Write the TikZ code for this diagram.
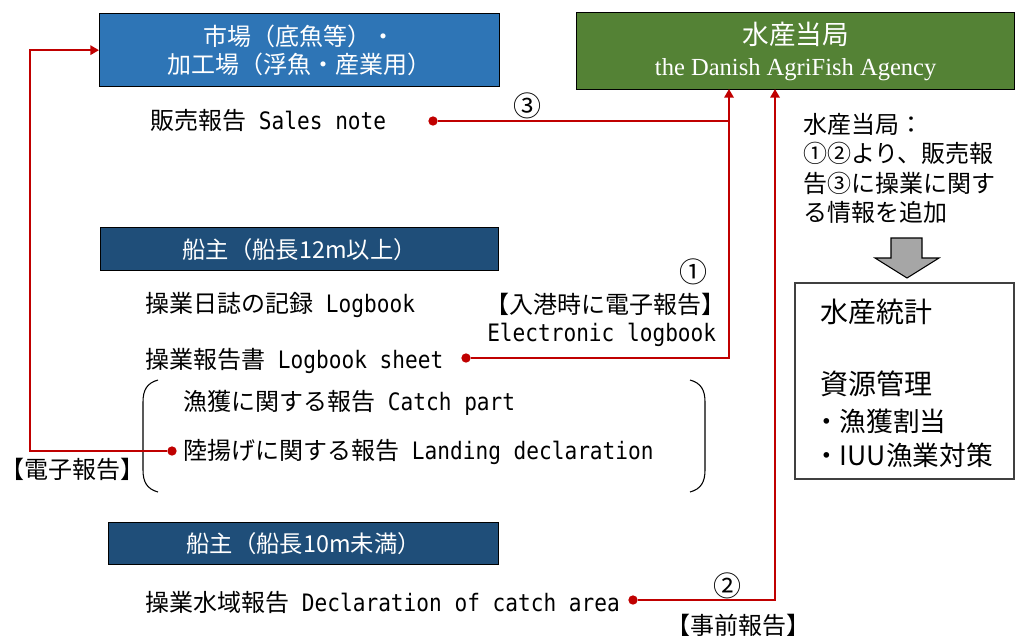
\documentclass[tikz,border=0pt]{standalone}
\usepackage{fontspec}
\setmainfont{Noto Sans CJK JP}
\newfontfamily\agencyfont{Liberation Serif}
\newfontfamily\latin{DejaVu Sans Mono}[Scale=1.0,FakeStretch=0.88]
\usetikzlibrary{positioning,arrows.meta}
\definecolor{marketblue}{RGB}{46,117,182}
\definecolor{agencygreen}{RGB}{84,130,53}
\definecolor{ownernavy}{RGB}{31,78,121}
\definecolor{reportred}{RGB}{192,0,0}
\definecolor{arrowgray}{RGB}{166,166,166}
\definecolor{boxline}{RGB}{64,64,64}
\tikzset{
  headbox/.style={draw=black,line width=1pt,anchor=north west,
                  text=white,align=center,inner sep=0pt},
  report/.style={anchor=west,inner sep=0pt,font=\fontsize{18}{22}\selectfont},
  routeno/.style={inner sep=0pt,font=\fontsize{21}{24}\selectfont},
  reddot/.style={circle,fill=reportred,inner sep=0pt,minimum size=7pt},
  redline/.style={draw=reportred,line width=2pt},
  redarrow/.style={redline,-{Triangle[length=6.5pt,width=7pt]}},
}

\begin{document}
\begin{tikzpicture}[x=0.75pt,y=-0.75pt]
  \useasboundingbox (0,0) rectangle (1016,635);

  % header boxes
  \node[headbox,fill=marketblue,minimum width=300pt,minimum height=54.75pt,
        font=\fontsize{18}{21}\selectfont]
    (market) at (99,13) {市場（底魚等）・\\加工場（浮魚・産業用）};
  \node[headbox,fill=agencygreen,minimum width=328.5pt,minimum height=57.75pt,
        font=\fontsize{18}{23}\selectfont]
    (agency) at (576,12)
    {{\fontsize{20}{23}\selectfont 水産当局}\\
     {\agencyfont\fontsize{18.4}{23}\selectfont the Danish AgriFish Agency}};
  \node[headbox,fill=ownernavy,minimum width=298.5pt,minimum height=32.25pt,
        font=\fontsize{17.5}{20}\selectfont]
    (owner12) at (100,227) {船主（船長12m以上）};
  \node[headbox,fill=ownernavy,minimum width=292.5pt,minimum height=31.5pt,
        font=\fontsize{17.5}{20}\selectfont]
    (owner10) at (108,522) {船主（船長10m未満）};

  % reports
  \node[report] (sales)   at (150,120) {販売報告{\latin\ Sales note}};
  \node[report] (logbook) at (145,305) {操業日誌の記録{\latin\ Logbook}};
  \node[report] (sheet)   at (145,361) {操業報告書{\latin\ Logbook sheet}};
  \node[report] (catch)   at (183,403) {漁獲に関する報告{\latin\ Catch part}};
  \node[report] (landing) at (183,452) {陸揚げに関する報告{\latin\ Landing declaration}};
  \node[report] (decl)    at (145,602) {操業水域報告{\latin\ Declaration of catch area}};

  % bracket round catch / landing
  \draw[line width=0.8pt] (158,380) .. controls (147,383) and (143,390) .. (143,402)
    -- (143,470) .. controls (143,482) and (147,489) .. (158,492);
  \draw[line width=0.8pt] (690,380) .. controls (701,383) and (705,390) .. (705,402)
    -- (705,470) .. controls (705,482) and (701,489) .. (690,492);

  % labels on the routes
  \node[routeno] (no3) at (527,106) {③};
  \node[routeno] (no1) at (693,272) {①};
  \node[routeno] (no2) at (727,586) {②};
  \node[report,anchor=east] (arrival) at (726,304) {【入港時に電子報告】};
  \node[report] (elog) at (487,335) {\latin Electronic logbook};
  \node[report,anchor=center] (efile) at (72,469) {【電子報告】};
  \node[report,anchor=center] (prior) at (738,625) {【事前報告】};

  % red routes
  \coordinate (a1) at (729,89);
  \coordinate (a2) at (775,89);
  \coordinate (c4) at (30,451);
  \node[reddot] (dsales)   at (433,121) {};
  \node[reddot] (dsheet)   at (466,358) {};
  \node[reddot] (dlanding) at (172,451) {};
  \node[reddot] (ddecl)    at (633,600) {};
  \draw[redline]  (dsales) -- (dsales -| a1);
  \draw[redarrow] (dsheet) -| (a1);
  \draw[redarrow] (ddecl) -| (a2);
  \draw[redarrow] (dlanding) -- (c4) |- (market.west);

  % agency side
  \node[report,anchor=north west,align=left,font=\fontsize{18}{22}\selectfont]
    (note) at (803,113) {水産当局：\\①②より、販売報\\告③に操業に関す\\る情報を追加};
  \draw[fill=arrowgray,line width=0.8pt] (891,238) -- (922,238) -- (922,258)
    -- (939,258) -- (907,278) -- (875,258) -- (891,258) -- cycle;
  \node[draw=boxline,line width=1.2pt,anchor=north west,
        minimum width=164.25pt,minimum height=147pt] (stats) at (794,282) {};
  \node[report,font=\fontsize{21}{24}\selectfont] (stat1) at (820,312) {水産統計};
  \node[report,font=\fontsize{21}{24}\selectfont] (stat2) at (820,384) {資源管理};
  \node[report,font=\fontsize{20}{24}\selectfont] (stat3) at (813,421) {・漁獲割当};
  \node[report,font=\fontsize{20}{24}\selectfont] (stat4) at (813,455) {・IUU漁業対策};
\end{tikzpicture}
\end{document}
